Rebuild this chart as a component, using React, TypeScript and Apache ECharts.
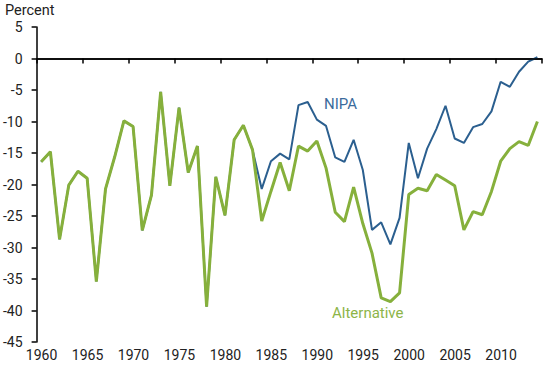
import React, { useEffect, useRef } from "react";
import * as echarts from "echarts";

const years: number[] = [];
for (let y = 1960; y <= 2014; y++) years.push(y);

const alternative = [
  -16.4, -14.8, -28.7, -20.1, -17.9, -19.0, -35.4, -20.7, -15.6, -9.9,
  -10.8, -27.3, -21.7, -5.3, -20.2, -7.8, -18.1, -13.9, -39.4, -18.8,
  -24.9, -12.9, -10.6, -14.5, -25.8, -21.1, -16.5, -21.0, -13.9, -14.7,
  -13.1, -17.4, -24.4, -25.9, -20.4, -26.2, -30.9, -38.0, -38.6, -37.2,
  -21.6, -20.6, -21.0, -18.4, -19.3, -20.2, -27.2, -24.3, -24.8, -21.1,
  -16.3, -14.3, -13.2, -13.8, -10.0,
];

const nipa = [
  -16.4, -14.8, -28.7, -20.1, -17.9, -19.0, -35.4, -20.7, -15.6, -9.9,
  -10.8, -27.3, -21.7, -5.3, -20.2, -7.8, -18.1, -13.9, -39.4, -18.8,
  -24.9, -12.9, -10.6, -14.5, -20.7, -16.3, -15.1, -16.0, -7.4, -6.9,
  -9.7, -10.7, -15.7, -16.4, -12.9, -17.7, -27.2, -26.0, -29.5, -25.3,
  -13.4, -19.0, -14.3, -11.2, -7.5, -12.7, -13.4, -10.9, -10.4, -8.4,
  -3.7, -4.5, -2.1, -0.5, 0.2,
];

const seriesNames = ["NIPA", "Alternative"];
const yTitle = "Percent";

export default function App() {
  const ref = useRef<HTMLDivElement>(null);
  useEffect(() => {
    if (!ref.current) return;
    document.body.style.margin = "0";
    const chart = echarts.init(ref.current, null, { renderer: "svg" });
    const font = "Roboto, 'Liberation Sans', Arial, sans-serif";
    const toPts = (arr: number[]) => arr.map((v, i) => [years[i] + 0.5, v]);
    chart.setOption({
      animation: false,
      grid: { left: 36, right: 8, top: 27, bottom: 23, containLabel: false },
      xAxis: {
        type: "value",
        min: 1960,
        max: 2015,
        interval: 5,
        axisLine: { show: true, lineStyle: { color: "#000", width: 1.5 } },
        axisTick: { show: true, length: 5, lineStyle: { color: "#000", width: 1.5 } },
        axisLabel: {
          color: "#222",
          fontSize: 14,
          fontFamily: font,
          margin: 6,
          padding: [0, 0, 0, 10],
          formatter: (v: number) => (v === 2015 ? "" : String(v)),
        },
        splitLine: { show: false },
      },
      yAxis: {
        type: "value",
        min: -45,
        max: 5,
        interval: 5,
        axisLine: { show: true, lineStyle: { color: "#000", width: 1.5 } },
        axisTick: { show: true, length: 5, lineStyle: { color: "#000", width: 1.5 } },
        axisLabel: { color: "#222", fontSize: 14, fontFamily: font, margin: 14 },
        splitLine: { show: false },
      },
      graphic: [
        {
          type: "text",
          left: 5,
          top: 3,
          style: { text: yTitle, fontSize: 14.5, fontFamily: font, fill: "#222" },
        },
        {
          type: "text",
          left: 324,
          top: 96,
          style: { text: seriesNames[0], fontSize: 15, fontFamily: font, fill: "#3b6b9c" },
        },
        {
          type: "text",
          left: 332,
          top: 305,
          style: { text: seriesNames[1], fontSize: 15, fontFamily: font, fill: "#8db548" },
        },
      ],
      series: [
        {
          name: seriesNames[0],
          type: "line",
          data: toPts(nipa),
          showSymbol: false,
          lineStyle: { color: "#2b5f8f", width: 2 },
          z: 2,
          markLine: {
            silent: true,
            symbol: "none",
            label: { show: false },
            lineStyle: { color: "#000", width: 1.5, type: "solid" },
            data: [{ yAxis: 0 }],
          },
        },
        {
          name: seriesNames[1],
          type: "line",
          data: toPts(alternative),
          showSymbol: false,
          lineStyle: { color: "#86b03c", width: 3 },
          z: 3,
        },
      ],
    });
    return () => chart.dispose();
  }, []);
  return <div ref={ref} style={{ width: 550, height: 365 }} />;
}
